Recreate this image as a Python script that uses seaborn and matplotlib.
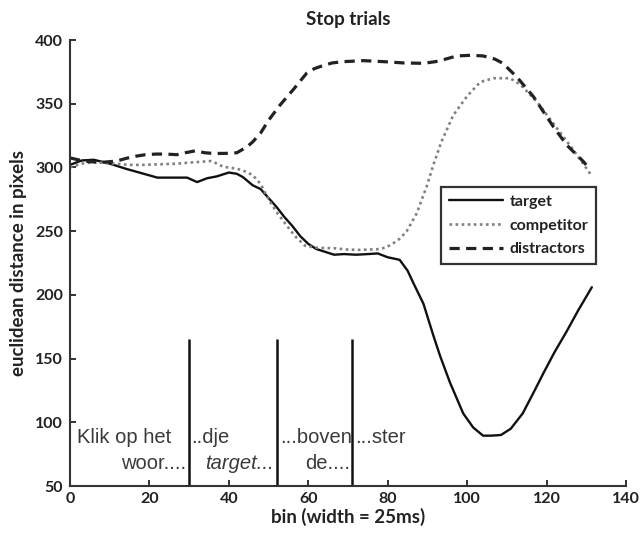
import matplotlib
matplotlib.use("Agg")
import matplotlib.pyplot as plt
import numpy as np
import pandas as pd
import seaborn as sns

# ---------------- data ----------------
target_bins = [0, 3, 6, 10, 14, 18, 22, 26, 29.5, 32, 34.5, 37, 40, 42, 43.5, 46, 48,
               50, 52, 54, 56, 58, 60, 62, 64, 66.5, 69, 72, 75, 77.5, 80, 83, 85,
               86.5, 89, 91.5, 93.2, 95.7, 99, 101.5, 104, 106, 108.5, 111, 114, 117,
               119.2, 122, 125, 128, 131.4]
target_vals = [302, 305.5, 306, 303, 299, 295.5, 292, 292, 292, 288.5, 291.5, 293, 296,
               295, 292.5, 286, 283, 276, 269, 261, 254, 246, 240, 236, 234, 231.5, 232,
               231.5, 232, 232.5, 229.5, 227.5, 219, 209, 193, 168, 152, 131, 107, 96,
               89.5, 89.5, 90, 95, 107, 125, 138.5, 155, 171, 188, 206]

comp_bins = [0, 3, 6, 11, 15, 18.5, 23, 27, 31, 35.5, 37, 38.6, 42, 44, 46, 48, 50, 52,
             55.4, 57, 59.2, 62, 66.8, 70, 73, 77.3, 79.5, 81.4, 83, 84.8, 87.3, 89.8,
             91.5, 93.5, 96.5, 100, 103.3, 106.6, 110.8, 113.4, 117.6, 121.7, 126.8, 131]
comp_vals = [300, 303, 304, 303, 302, 302, 302.5, 303, 304, 305, 303, 300.5, 299, 297,
             294, 287, 275, 265, 251, 245, 238.5, 237, 236.5, 235.5, 235.3, 235.8, 237,
             240.5, 244, 250, 264, 285, 302, 320, 341, 356, 367, 370, 370, 365, 351.5,
             334.5, 313.5, 295]

dist_bins = [0, 2, 5, 8, 11.8, 14, 16, 19, 21.8, 24, 26.9, 29, 31.5, 34, 36, 39, 42,
             44.5, 46, 48, 50, 52.9, 56.2, 59.6, 61.5, 63.8, 66, 68.8, 73.9, 79, 84, 89,
             92, 94, 97.4, 101, 104, 107, 109, 112.5, 116.7, 121.7, 125.1, 129.3, 130.5]
dist_vals = [307.5, 306, 304.5, 304, 305, 307, 308.5, 310, 310.5, 310.5, 310, 311.5, 313,
             311.5, 311, 311, 311.5, 316, 320, 327, 337, 349, 361, 374, 377.5, 380, 382,
             383, 383.8, 383, 382, 381.7, 383, 384.5, 387.5, 388, 387.5, 385, 381.7, 371,
             355.5, 332, 317.5, 304.5, 300]

series_names = ["target", "competitor", "distractors"]

word_onsets = [30, 52, 71]
onset_line_top = 165

x_ticks = [0, 20, 40, 60, 80, 100, 120, 140]
y_ticks = [50, 100, 150, 200, 250, 300, 350, 400]

# ---------------- figure ----------------
sns.set_theme(style="ticks")
plt.rcParams["font.family"] = ["Lato", "DejaVu Sans"]

W, H = 641, 535
fig = plt.figure(figsize=(W / 100, H / 100), dpi=100)
ax = fig.add_axes([70 / W, 49 / H, 556 / W, 446 / H])

sns.lineplot(x=target_bins, y=target_vals, ax=ax, color="#111111", lw=1.7,
             label=series_names[0], sort=False)
sns.lineplot(x=comp_bins, y=comp_vals, ax=ax, color="#808080", lw=1.9,
             linestyle=(0, (1.0, 1.3)), label=series_names[1], sort=False)
sns.lineplot(x=dist_bins, y=dist_vals, ax=ax, color="#222222", lw=2.3,
             linestyle=(0, (3.2, 2.0)), label=series_names[2], sort=False)

ax.vlines(word_onsets, 50, onset_line_top, color="#111111", lw=1.8)

# phrase annotations
txt_kw = dict(family=["Liberation Sans", "DejaVu Sans"], fontsize=14.5, color="#3a3a3a")
ax.text(1.7, 88, "Klik op het", ha="left", va="center", **txt_kw)
ax.text(29.3, 68, "woor....", ha="right", va="center", **txt_kw)
ax.text(30.4, 88, "..dje", ha="left", va="center", **txt_kw)
ax.text(51.3, 68, "target...", ha="right", va="center", style="italic", **txt_kw)
ax.text(53.0, 88, "...boven", ha="left", va="center", **txt_kw)
ax.text(70.5, 68, "de....", ha="right", va="center", **txt_kw)
ax.text(71.8, 88, "...ster", ha="left", va="center", **txt_kw)

ax.set_xlim(0, 140)
ax.set_ylim(50, 400)
ax.set_xticks(x_ticks)
ax.set_yticks(y_ticks)

for side in ["top", "right"]:
    ax.spines[side].set_visible(False)
for side in ["left", "bottom"]:
    ax.spines[side].set_linewidth(1.5)
    ax.spines[side].set_color("#333333")

ax.tick_params(direction="in", length=4, width=1.4, color="#333333",
               labelsize=11.5, labelcolor="#222222")
for lab in ax.get_xticklabels() + ax.get_yticklabels():
    lab.set_fontweight("bold")
ax.tick_params(axis="x", pad=4)
ax.tick_params(axis="y", pad=5)

ax.set_xlabel("bin (width = 25ms)", fontsize=13.5, fontweight="bold", color="#222222",
              labelpad=2)
ax.set_ylabel("euclidean distance in pixels", fontsize=13.5, fontweight="bold",
              color="#222222", labelpad=6)
ax.set_title("Stop trials", fontsize=13.5, fontweight="bold", color="#222222", pad=11)

leg = ax.legend(loc="upper left", bbox_to_anchor=(0.6665, 0.671), frameon=True,
                fancybox=False, edgecolor="#333333", framealpha=1,
                fontsize=11.5, handlelength=3.4, handletextpad=0.4,
                labelspacing=0.6, borderpad=0.5, borderaxespad=0)
leg.get_frame().set_linewidth(1.6)
for t in leg.get_texts():
    t.set_fontweight("bold")
    t.set_color("#222222")

fig.savefig("out.png", dpi=100)
